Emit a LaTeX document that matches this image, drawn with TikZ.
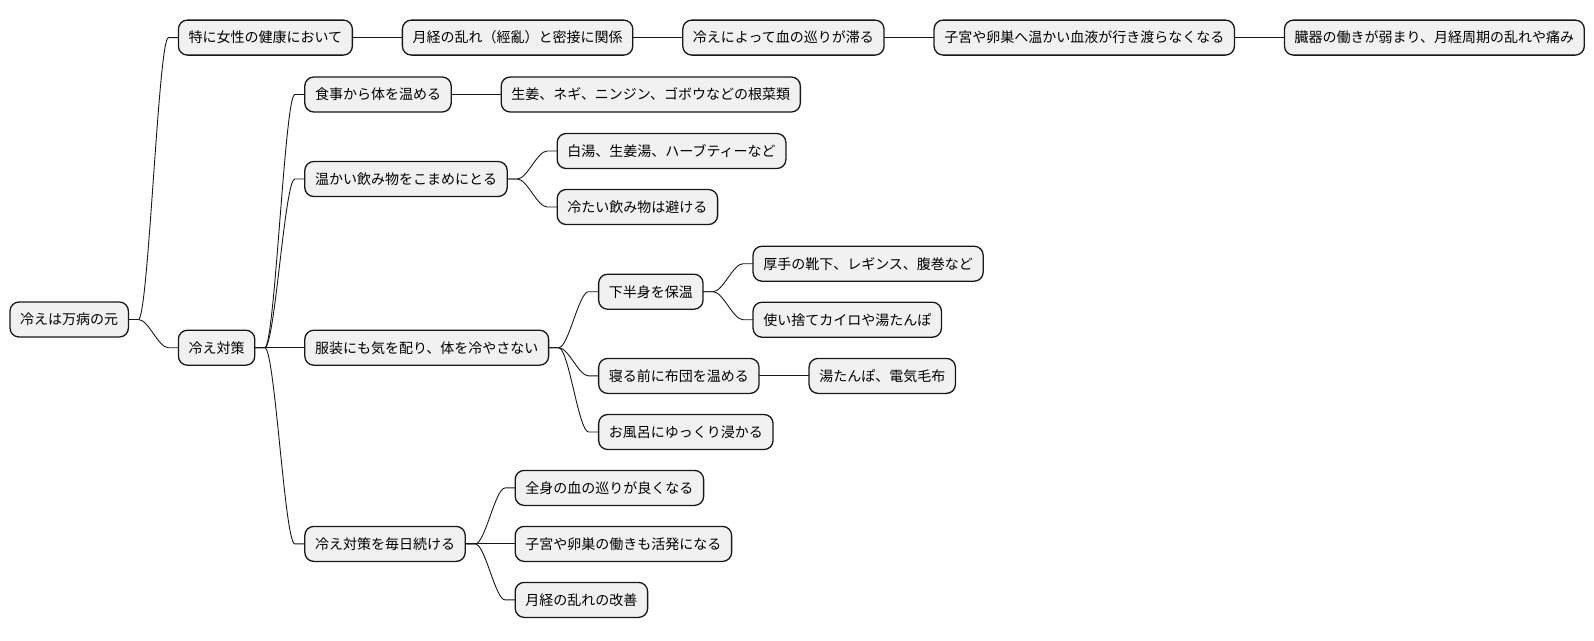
\documentclass[tikz,border=0pt]{standalone}
\usepackage{fontspec}
\setmainfont{Noto Sans CJK JP}
\usetikzlibrary{positioning}
\definecolor{boxfill}{HTML}{F1F1F1}
\definecolor{boxline}{HTML}{181818}
\tikzset{
  mm/.style={draw=boxline, fill=boxfill, line width=1.3pt, rounded corners=9pt,
    font=\fontsize{14pt}{16pt}\selectfont, inner xsep=10.2pt, inner ysep=0pt, outer sep=0pt,
    minimum height=35pt, text height=12.3pt, text depth=1.7pt},
  link/.style={draw=boxline, line width=0.9pt,
    to path={(\tikztostart) -- ++(10pt,0) .. controls +(10pt,0) and +(-10pt,0) .. ([xshift=-10pt]\tikztotarget) -- (\tikztotarget)}}
}
\begin{document}
\begin{tikzpicture}[x=1pt,y=1pt]
\useasboundingbox (0,0) rectangle (1594,-640);
\node[mm, anchor=west] (root) at (10,-319.5) {冷えは万病の元};
\node[mm, right=50pt of root, yshift=281.9pt] (a1) {特に女性の健康において};
\node[mm, right=50pt of a1] (a2) {月経の乱れ（經亂）と密接に関係};
\node[mm, right=50pt of a2] (a3) {冷えによって血の巡りが滞る};
\node[mm, right=50pt of a3] (a4) {子宮や卵巣へ温かい血液が行き渡らなくなる};
\node[mm, right=50pt of a4] (a5) {臓器の働きが弱まり、月経周期の乱れや痛み};
\node[mm, right=50pt of root, yshift=-28.2pt] (b) {冷え対策};
\node[mm, right=50pt of b, yshift=253.2pt] (b1) {食事から体を温める};
\node[mm, right=50pt of b1] (b11) {生姜、ネギ、ニンジン、ゴボウなどの根菜類};
\node[mm, right=50pt of b, yshift=168.7pt] (b2) {温かい飲み物をこまめにとる};
\node[mm, right=50pt of b2, yshift=28pt] (b21) {白湯、生姜湯、ハーブティーなど};
\node[mm, right=50pt of b2, yshift=-28pt] (b22) {冷たい飲み物は避ける};
\node[mm, right=50pt of b] (b3) {服装にも気を配り、体を冷やさない};
\node[mm, right=50pt of b3, yshift=56pt] (b31) {下半身を保温};
\node[mm, right=50pt of b31, yshift=28pt] (b311) {厚手の靴下、レギンス、腹巻など};
\node[mm, right=50pt of b31, yshift=-28pt] (b312) {使い捨てカイロや湯たんぽ};
\node[mm, right=50pt of b3, yshift=-28.2pt] (b32) {寝る前に布団を温める};
\node[mm, right=50pt of b32] (b321) {湯たんぽ、電気毛布};
\node[mm, right=50pt of b3, yshift=-84.3pt] (b33) {お風呂にゆっくり浸かる};
\node[mm, right=50pt of b, yshift=-196.2pt] (b4) {冷え対策を毎日続ける};
\node[mm, right=50pt of b4, yshift=56pt] (b41) {全身の血の巡りが良くなる};
\node[mm, right=50pt of b4] (b42) {子宮や卵巣の働きも活発になる};
\node[mm, right=50pt of b4, yshift=-56pt] (b43) {月経の乱れの改善};
\foreach \p/\c in {root/a1, a1/a2, a2/a3, a3/a4, a4/a5, root/b, b/b1, b1/b11, b/b2, b2/b21, b2/b22, b/b3, b3/b31, b31/b311, b31/b312, b3/b32, b32/b321, b3/b33, b/b4, b4/b41, b4/b42, b4/b43}
  \draw[link] (\p.east) to (\c.west);
\end{tikzpicture}
\end{document}
